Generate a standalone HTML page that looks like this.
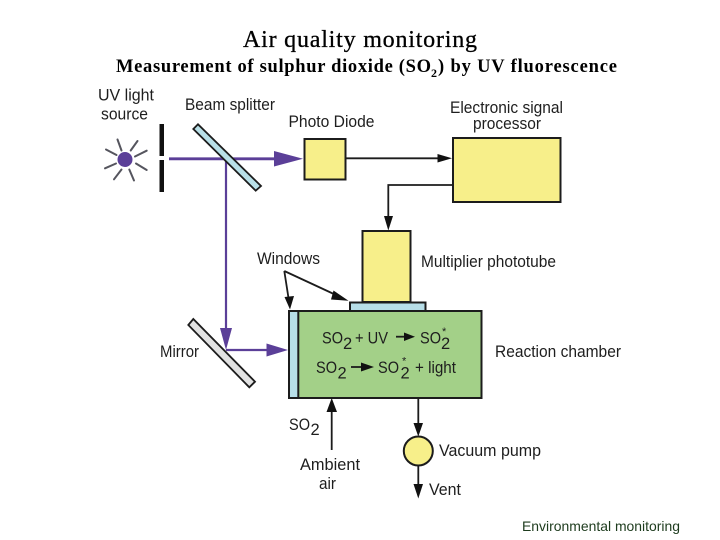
<!DOCTYPE html>
<html><head><meta charset="utf-8">
<style>
html,body{margin:0;padding:0;background:#fff}
svg{display:block}
.s{font-family:"Liberation Sans",sans-serif;font-size:16.5px;fill:#1e1e1e}
.t{font-family:"Liberation Serif",serif;font-weight:bold;fill:#000}
</style></head>
<body>
<svg width="720" height="540" viewBox="0 0 720 540" xmlns="http://www.w3.org/2000/svg">
<rect width="720" height="540" fill="#fff"/>
<text class="t" x="243" y="47" font-size="24" textLength="234" lengthAdjust="spacing" style="font-weight:normal;stroke:#000;stroke-width:.3">Air quality monitoring</text>
<text class="t" x="116" y="72" font-size="18.5" textLength="315" lengthAdjust="spacing">Measurement of sulphur dioxide (SO</text>
<text class="t" x="431" y="77" font-size="12">2</text>
<text class="t" x="438" y="72" font-size="18.5" textLength="179" lengthAdjust="spacing">) by UV fluorescence</text>

<!-- sun -->
<circle cx="125" cy="159.5" r="7.5" fill="#5b3f98"/>
<g stroke="#55555e" stroke-width="2" stroke-linecap="round">
<line x1="117.5" y1="139.5" x2="121.5" y2="150.5"/><line x1="137.5" y1="141" x2="130.7" y2="150.5"/>
<line x1="146.7" y1="150.7" x2="135" y2="156.5"/><line x1="146.7" y1="170" x2="136" y2="163.5"/>
<line x1="134" y1="180.5" x2="129.3" y2="169.5"/><line x1="114" y1="179.3" x2="121.5" y2="169.5"/>
<line x1="105" y1="168.3" x2="116" y2="163.5"/><line x1="106" y1="149.5" x2="116.5" y2="155"/>
</g>
<rect x="159.5" y="124" width="4.5" height="32" fill="#111"/>
<rect x="159.5" y="160" width="4.5" height="32" fill="#111"/>

<!-- purple beams -->
<g stroke="#5b3f98" fill="none">
<line x1="169" y1="158.8" x2="276" y2="158.8" stroke-width="2.8"/>
<line x1="226" y1="158.8" x2="226" y2="330" stroke-width="2.2"/>
<line x1="226" y1="350" x2="268" y2="350" stroke-width="2.2"/>
</g>
<polygon points="274,151 303,158.8 274,166.5" fill="#5b3f98"/>
<polygon points="220,328 232,328 226,350" fill="#5b3f98"/>
<polygon points="266.5,343.5 288,350 266.5,356.5" fill="#5b3f98"/>

<!-- splitter, mirror -->
<polygon points="193.3,129 198,124.3 261,186 255.7,190.7" fill="#b9e0e8" stroke="#1c1c1c" stroke-width="1.8"/>
<polygon points="188.3,325 193.3,319 255,381.7 249.3,387.3" fill="#e2e2e2" stroke="#1c1c1c" stroke-width="1.8"/>

<!-- boxes -->
<g stroke="#1c1c1c" stroke-width="2">
<rect x="304.5" y="139" width="41" height="40.5" fill="#f7ef8a"/>
<rect x="453" y="138" width="107.5" height="64" fill="#f7ef8a"/>
<rect x="362.5" y="231" width="48" height="71" fill="#f7ef8a"/>
<rect x="350" y="302.5" width="75.5" height="9" fill="#b7dee8"/>
<rect x="298" y="311" width="183.5" height="87" fill="#a3d088"/>
<rect x="289" y="311" width="9.3" height="87" fill="#b7dee8"/>
<circle cx="418.3" cy="451" r="14.5" fill="#f7ef8a"/>
</g>

<!-- black connectors -->
<g stroke="#1c1c1c" stroke-width="1.8" fill="none">
<line x1="345" y1="158.3" x2="440" y2="158.3"/>
<polyline points="453,185 388.3,185 388.3,218"/>
<line x1="284.3" y1="271" x2="336" y2="295"/>
<line x1="284.3" y1="271" x2="288.5" y2="298"/>
<line x1="331.7" y1="450" x2="331.7" y2="410"/>
<line x1="418.3" y1="398" x2="418.3" y2="425"/>
<line x1="418.3" y1="465" x2="418.3" y2="486"/>
<line x1="396" y1="336.7" x2="408" y2="336.7"/>
<line x1="351" y1="367" x2="362" y2="367"/>
</g>
<g fill="#111">
<polygon points="437.5,154 437.5,162.5 452,158.3"/>
<polygon points="384,216 393,216 388.3,230.5"/>
<polygon points="333.5,290.5 348.5,300.7 331,299.5"/>
<polygon points="284.5,297 294,296 290,309.5"/>
<polygon points="326.5,412 337,412 331.7,398"/>
<polygon points="413.5,423 423,423 418.3,436.5"/>
<polygon points="413.5,484 423,484 418.3,498.5"/>
<polygon points="404,332.5 404,341 415,336.7"/>
<polygon points="361,362.5 361,371.5 374,367"/>
</g>

<!-- labels -->
<text class="s" x="98" y="100.5" textLength="56" lengthAdjust="spacingAndGlyphs">UV light</text>
<text class="s" x="101" y="119.5" textLength="47" lengthAdjust="spacingAndGlyphs">source</text>
<text class="s" x="185" y="110" textLength="90" lengthAdjust="spacingAndGlyphs">Beam splitter</text>
<text class="s" x="288.5" y="127" textLength="86" lengthAdjust="spacingAndGlyphs">Photo Diode</text>
<text class="s" x="450" y="113" textLength="113" lengthAdjust="spacingAndGlyphs">Electronic signal</text>
<text class="s" x="473" y="129" textLength="68" lengthAdjust="spacingAndGlyphs">processor</text>
<text class="s" x="257" y="264" textLength="63" lengthAdjust="spacingAndGlyphs">Windows</text>
<text class="s" x="421" y="267" textLength="135" lengthAdjust="spacingAndGlyphs">Multiplier phototube</text>
<text class="s" x="495" y="357" textLength="126" lengthAdjust="spacingAndGlyphs">Reaction chamber</text>
<text class="s" x="160" y="357" textLength="39" lengthAdjust="spacingAndGlyphs">Mirror</text>

<text class="s" x="322" y="343.5" textLength="21" lengthAdjust="spacingAndGlyphs">SO</text>
<text class="s" x="343" y="349">2</text>
<text class="s" x="355" y="343.5" textLength="33" lengthAdjust="spacingAndGlyphs">+ UV</text>
<text class="s" x="420" y="343.5" textLength="21" lengthAdjust="spacingAndGlyphs">SO</text>
<text class="s" x="441" y="349">2</text>
<text class="s" x="442" y="335" style="font-size:11px">*</text>

<text class="s" x="316" y="373" textLength="21" lengthAdjust="spacingAndGlyphs">SO</text>
<text class="s" x="337.5" y="378.5">2</text>
<text class="s" x="378" y="373" textLength="21" lengthAdjust="spacingAndGlyphs">SO</text>
<text class="s" x="400.5" y="378.5">2</text>
<text class="s" x="402" y="364.5" style="font-size:11px">*</text>
<text class="s" x="415" y="373" textLength="41" lengthAdjust="spacingAndGlyphs">+ light</text>

<text class="s" x="289" y="430" textLength="21" lengthAdjust="spacingAndGlyphs">SO</text>
<text class="s" x="310.5" y="435">2</text>
<text class="s" x="300" y="470" textLength="60" lengthAdjust="spacingAndGlyphs">Ambient</text>
<text class="s" x="319" y="489" textLength="17" lengthAdjust="spacingAndGlyphs">air</text>
<text class="s" x="439" y="456" textLength="102" lengthAdjust="spacingAndGlyphs">Vacuum pump</text>
<text class="s" x="429" y="495" textLength="32" lengthAdjust="spacingAndGlyphs">Vent</text>

<text x="522" y="531" font-family="'Liberation Sans',sans-serif" font-size="14" fill="#1d3b1d" textLength="158" lengthAdjust="spacingAndGlyphs">Environmental monitoring</text>
</svg>
</body></html>
